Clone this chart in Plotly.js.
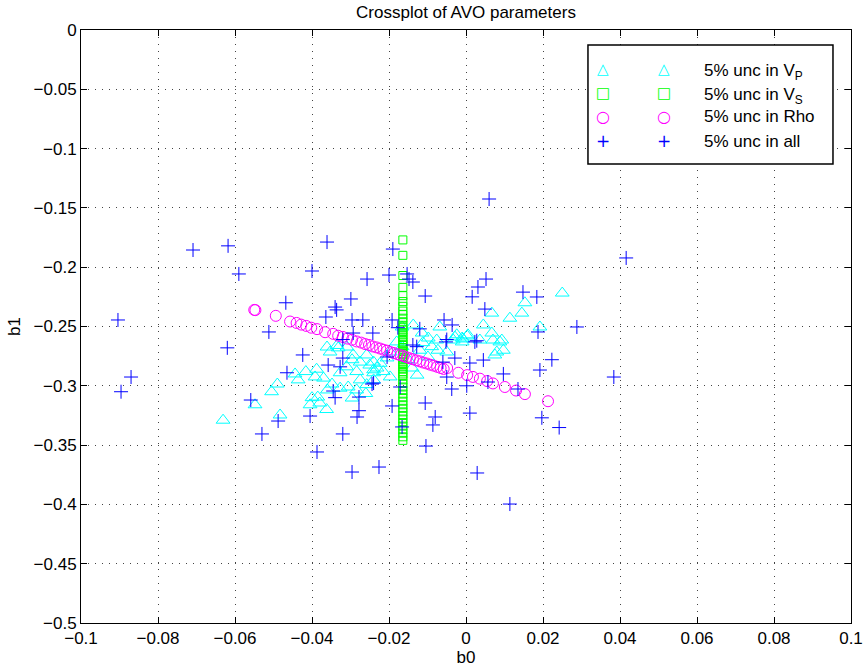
<!DOCTYPE html>
<html>
<head>
<meta charset="utf-8">
<script src="https://cdn.plot.ly/plotly-3.0.1.min.js"></script>
<style>html,body{margin:0;padding:0;background:#fff;}#chart{width:864px;height:671px;}</style>
</head>
<body>
<div id="chart"></div>
<script>
// ---- Data ----
const seriesNames = ["5% unc in V<sub>P</sub>", "5% unc in V<sub>S</sub>", "5% unc in Rho", "5% unc in all"];

// 5% uncertainty in Vp (cyan triangles)
const vpB0 = [-0.0631,-0.0548,-0.0483,-0.0505,-0.049,-0.0444,-0.0436,-0.0416,-0.0388,-0.0392,-0.037,-0.040,-0.0385,-0.0405,-0.038,-0.0362,-0.0353,-0.0332,-0.0293,-0.0296,-0.0275,-0.0327,-0.031,-0.0284,-0.0258,-0.025,-0.024,-0.0275,-0.0306,-0.0327,-0.0284,-0.0258,-0.036,-0.0348,-0.024,-0.0335,-0.0137,-0.0068,-0.0114,-0.0098,-0.0076,-0.0089,-0.0073,-0.005,-0.0024,-0.001,-0.0033,-0.001,0.0005,0.0045,0.0067,0.0036,0.007,0.0093,0.008,0.0097,0.0067,0.0114,0.0145,0.0153,0.0192,-0.0166,-0.018,-0.0223,-0.0231,-0.0215,-0.024,-0.0197,-0.0127,-0.014,-0.012,-0.0099,-0.015,-0.0166,-0.0197,-0.0205,-0.024,0.025,0.0075,0.0088,0.0003,-0.0112,-0.0029,-0.0008,-0.0361,-0.0309,-0.0296,-0.026];
const vpB1 = [-0.329,-0.316,-0.3246,-0.305,-0.2985,-0.290,-0.295,-0.288,-0.286,-0.2925,-0.2935,-0.310,-0.3095,-0.316,-0.3145,-0.320,-0.2715,-0.268,-0.274,-0.278,-0.280,-0.289,-0.284,-0.288,-0.274,-0.2825,-0.2865,-0.295,-0.301,-0.302,-0.3035,-0.299,-0.3035,-0.2985,-0.295,-0.266,-0.2487,-0.2504,-0.2555,-0.2597,-0.2614,-0.267,-0.270,-0.2715,-0.257,-0.2597,-0.2614,-0.263,-0.257,-0.2487,-0.2555,-0.2614,-0.2614,-0.2614,-0.2715,-0.270,-0.2387,-0.243,-0.2387,-0.230,-0.2504,-0.2504,-0.263,-0.281,-0.285,-0.288,-0.289,-0.2925,-0.291,-0.285,-0.270,-0.2757,-0.278,-0.267,-0.2715,-0.2765,-0.280,-0.2218,-0.274,-0.263,-0.258,-0.2636,-0.2588,-0.2605,-0.2673,-0.2673,-0.3103,-0.3065];

// 5% uncertainty in Vs (green squares)
const vsB1 = [-0.177,-0.190,-0.207,-0.217,-0.224,-0.229,-0.233,-0.237,-0.240,-0.243,-0.246,-0.249,-0.251,-0.253,-0.255,-0.257,-0.259,-0.261,-0.263,-0.265,-0.266,-0.268,-0.270,-0.271,-0.273,-0.274,-0.276,-0.278,-0.280,-0.282,-0.284,-0.286,-0.288,-0.290,-0.292,-0.295,-0.298,-0.301,-0.304,-0.307,-0.310,-0.313,-0.316,-0.319,-0.322,-0.325,-0.328,-0.331,-0.334,-0.337,-0.340,-0.343,-0.346];
const vsB0 = [-0.0164,-0.0164,-0.0164,-0.0164,-0.0164,-0.0164,-0.0164,-0.0164,-0.0164,-0.0164,-0.0164,-0.0164,-0.0164,-0.0164,-0.0164,-0.0164,-0.0164,-0.0164,-0.0164,-0.0164,-0.0164,-0.0164,-0.0164,-0.0164,-0.0164,-0.0164,-0.0164,-0.0164,-0.0164,-0.0164,-0.0164,-0.0164,-0.0164,-0.0164,-0.0164,-0.0164,-0.0164,-0.0164,-0.0164,-0.0164,-0.0164,-0.0164,-0.0164,-0.0164,-0.0164,-0.0164,-0.0164,-0.0164,-0.0164,-0.0164,-0.0164,-0.0164,-0.0164];

// 5% uncertainty in Rho (magenta circles)
const rhoB0 = [-0.0550,-0.0547,-0.0494,-0.0457,-0.0440,-0.0428,-0.0415,-0.0402,-0.0387,-0.0366,-0.0345,-0.0332,-0.0320,-0.0308,-0.0296,-0.0284,-0.0272,-0.0262,-0.0252,-0.0243,-0.0233,-0.0223,-0.0214,-0.0205,-0.0196,-0.0187,-0.0178,-0.0170,-0.0162,-0.0154,-0.0146,-0.0138,-0.0129,-0.0120,-0.0111,-0.0102,-0.0093,-0.0084,-0.0075,-0.0066,-0.0058,-0.0049,-0.0020,0.0003,0.0018,0.0036,0.0055,0.0070,0.0101,0.0130,0.0153,0.0213];
const rhoB1 = [-0.2360,-0.2362,-0.2410,-0.2458,-0.2470,-0.2484,-0.2495,-0.2510,-0.2522,-0.2548,-0.2562,-0.2578,-0.2588,-0.2602,-0.2612,-0.2626,-0.2636,-0.2648,-0.2656,-0.2668,-0.2676,-0.2686,-0.2696,-0.2704,-0.2716,-0.2724,-0.2734,-0.2742,-0.2750,-0.2760,-0.2768,-0.2776,-0.2786,-0.2794,-0.2804,-0.2812,-0.2822,-0.2830,-0.2840,-0.2850,-0.2858,-0.2850,-0.2890,-0.2910,-0.2925,-0.2940,-0.2960,-0.2980,-0.3010,-0.3040,-0.3070,-0.3130];

// 5% uncertainty in all (blue pluses)
const allB0 = [-0.0904,-0.0896,-0.087,-0.0709,-0.0618,-0.059,-0.062,-0.0512,-0.0468,-0.0559,-0.0488,-0.0465,-0.0424,-0.0364,-0.034,-0.0336,-0.0299,-0.0296,-0.0268,-0.0242,-0.0293,-0.032,-0.032,-0.0358,-0.0327,-0.0345,-0.034,-0.0278,-0.0278,-0.0283,-0.0405,-0.0244,-0.0361,-0.040,-0.0257,-0.020,-0.019,-0.0153,-0.0148,-0.0138,-0.0106,-0.0192,-0.0177,-0.012,-0.0057,-0.0036,-0.0052,-0.0138,0.0031,0.0016,0.0049,0.0148,0.0184,-0.005,0.0028,-0.0128,-0.0029,0.0045,0.001,-0.006,-0.005,-0.024,-0.0171,-0.0037,0.0002,0.0057,0.0097,0.0192,-0.0192,-0.0106,0.001,-0.008,-0.0086,-0.0166,0.0197,-0.0205,0.0187,0.0288,0.0223,0.0384,0.0135,0.0242,0.006,0.0416,0.0052,0.0023,-0.053,-0.032,-0.0387,-0.0296,-0.0226,-0.0104,0.0029,0.0114];
const allB1 = [-0.2445,-0.305,-0.2926,-0.1855,-0.182,-0.2057,-0.268,-0.2546,-0.230,-0.312,-0.3297,-0.289,-0.274,-0.242,-0.2336,-0.236,-0.2268,-0.2445,-0.2445,-0.2555,-0.2555,-0.261,-0.2766,-0.2825,-0.284,-0.3044,-0.310,-0.3095,-0.321,-0.3263,-0.3255,-0.2985,-0.1788,-0.2032,-0.210,-0.2066,-0.1847,-0.2057,-0.210,-0.2125,-0.2243,-0.2445,-0.251,-0.252,-0.2445,-0.2487,-0.263,-0.2656,-0.2167,-0.225,-0.2353,-0.221,-0.2251,-0.261,-0.262,-0.267,-0.2766,-0.2783,-0.2808,-0.280,-0.2926,-0.2977,-0.301,-0.3027,-0.300,-0.2968,-0.290,-0.2867,-0.317,-0.3145,-0.323,-0.3263,-0.333,-0.3347,-0.327,-0.2757,-0.2546,-0.2504,-0.278,-0.2926,-0.3027,-0.3352,-0.1425,-0.1922,-0.210,-0.263,-0.3406,-0.3406,-0.3558,-0.3727,-0.3685,-0.3508,-0.3735,-0.3997];

// ---- Styles ----
const FONT = "Liberation Sans, Arial, Helvetica, sans-serif";
const colors = ["#00ffff", "#00ff00", "#ff00ff", "#0000ff"];
const symbols = ["triangle-up-open", "square-open", "circle-open", "cross-thin-open"];
const glyphs = ["\u25B3", "\u25A1", "\u25CB", "+"];
const sizes = [12, 8, 11, 10];

const xs = [vpB0, vsB0, rhoB0, allB0];
const ys = [vpB1, vsB1, rhoB1, allB1];

const traces = xs.map((x, i) => ({
  type: "scatter", mode: "markers", x: x, y: ys[i], name: seriesNames[i],
  showlegend: false, hoverinfo: "skip",
  marker: { symbol: symbols[i], size: sizes[i], color: colors[i], line: { color: colors[i], width: 1 } }
}));

// manual MATLAB-style legend (two marker glyphs per entry)
const legendY = [0.9342, 0.8938, 0.8533, 0.8128];
const glyphSize = [15, 15, 16, 17];
const annotations = [];
seriesNames.forEach((name, i) => {
  [0.6778, 0.7571].forEach(px => annotations.push({
    xref: "paper", yref: "paper", x: px, y: legendY[i], text: glyphs[i], showarrow: false,
    xanchor: "center", yanchor: "middle", font: { family: "DejaVu Sans", size: glyphSize[i], color: colors[i] }
  }));
  annotations.push({
    xref: "paper", yref: "paper", x: 0.8065, y: legendY[i], text: name, showarrow: false,
    xanchor: "left", yanchor: "middle", yshift: (i < 2 ? -3 : 0),
    font: { family: FONT, size: 17, color: "#000" }
  });
});

const axisCommon = {
  showgrid: true, gridcolor: "#444", gridwidth: 1, griddash: "1px,6px",
  ticks: "inside", ticklen: 6, tickcolor: "#000", tickwidth: 1,
  showline: true, linecolor: "#000", linewidth: 1, mirror: "ticks",
  zeroline: false, tickfont: { family: FONT, size: 17, color: "#000" }
};

const layout = {
  width: 864, height: 671,
  margin: { l: 81, r: 13, t: 30, b: 48 },
  paper_bgcolor: "#fff", plot_bgcolor: "#fff",
  showlegend: false,
  title: { text: "Crossplot of AVO parameters", x: 0.5, xref: "paper", y: 0.982, yref: "container", yanchor: "middle",
           font: { family: FONT, size: 17, color: "#000" } },
  xaxis: Object.assign({}, axisCommon, { range: [-0.1, 0.1], tick0: -0.1, dtick: 0.02,
           title: { text: "b0", font: { family: FONT, size: 17, color: "#000" }, standoff: 2 } }),
  yaxis: Object.assign({}, axisCommon, { range: [-0.5, 0], tick0: -0.5, dtick: 0.05,
           title: { text: "b1", font: { family: FONT, size: 17, color: "#000" }, standoff: 8 } }),
  shapes: [{ type: "rect", xref: "paper", yref: "paper", x0: 0.6584, x1: 0.9766, y0: 0.774, y1: 0.9747,
             line: { color: "#000", width: 1.5 }, fillcolor: "#fff", layer: "above" }],
  annotations: annotations
};

Plotly.newPlot("chart", traces, layout, { displayModeBar: false, staticPlot: true });
</script>
</body>
</html>
